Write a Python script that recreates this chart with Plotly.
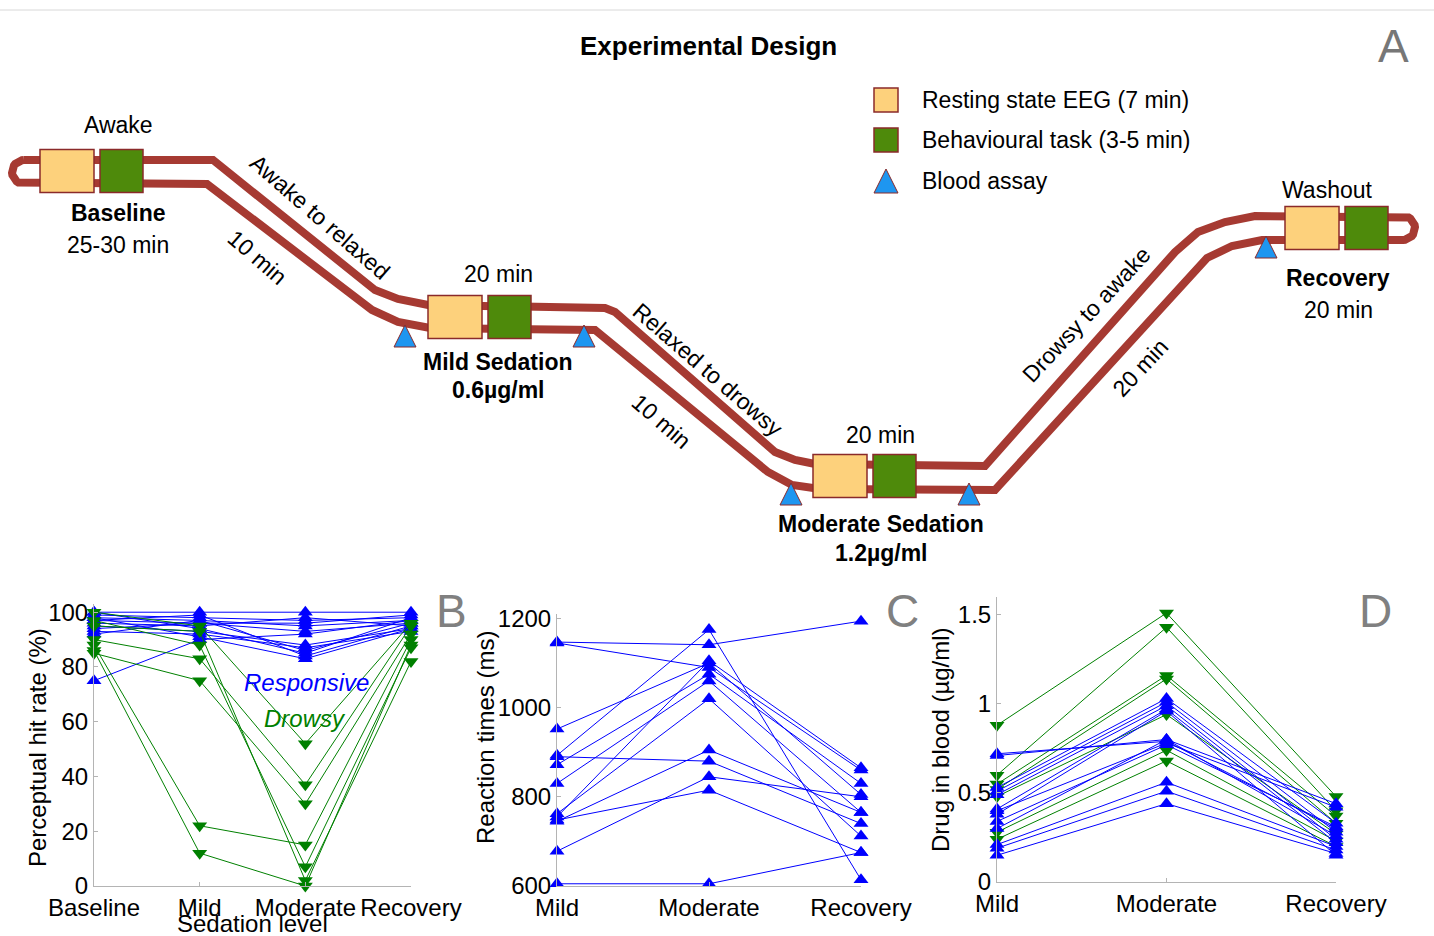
import numpy as np
import plotly.graph_objects as go

W, H = 1434, 936

# ---------------- Panel B : perceptual hit rate (%) ----------------
levels_B = ["Baseline", "Mild", "Moderate", "Recovery"]
hit_responsive = [
    [100, 100, 100, 100],
    [99, 98, 97, 98],
    [98, 97, 95, 97],
    [97, 96, 93, 96],
    [96, 95, 98, 95],
    [95, 93, 88, 94],
    [93, 92, 87, 93],
    [92, 97, 86, 96],
    [100, 94, 85, 98],
    [97, 99, 84, 95],
    [98, 91, 83, 94],
    [75, 90, 92, 97],
    [94, 96, 96, 99],
]
hit_drowsy = [
    [100, 95, 52, 96],
    [90, 83, 37, 95],
    [85, 75, 30, 92],
    [88, 22, 15, 90],
    [86, 12, 0, 88],
    [97, 88, 7, 87],
    [95, 93, 2, 82],
]

# ---------------- Panel C : reaction times (ms) ----------------
levels_CD = ["Mild", "Moderate", "Recovery"]
rt_responsive = [
    [1147, 1141, 1194],
    [1145, 1090, 860],
    [952, 1100, 805],
    [893, 1175, 614],
    [890, 880, 740],
    [872, 1075, 830],
    [830, 1060, 765],
    [762, 1020, 712],
    [755, 1105, 865],
    [748, 815, 675],
    [745, 905, 765],
    [678, 845, 800],
    [605, 605, 675],
]

# ---------------- Panel D : drug in blood (ug/ml) ----------------
drug_responsive = [
    [0.72, 0.79, 0.30],
    [0.71, 0.80, 0.44],
    [0.53, 1.03, 0.33],
    [0.51, 1.01, 0.28],
    [0.49, 0.99, 0.24],
    [0.41, 0.97, 0.22],
    [0.40, 0.78, 0.42],
    [0.34, 0.77, 0.31],
    [0.30, 0.80, 0.26],
    [0.21, 0.56, 0.20],
    [0.19, 0.51, 0.18],
    [0.15, 0.44, 0.16],
    [0.38, 0.96, 0.15],
]
drug_drowsy = [
    [0.88, 1.51, 0.48],
    [0.60, 1.43, 0.40],
    [0.55, 1.16, 0.37],
    [0.52, 1.14, 0.33],
    [0.48, 0.94, 0.27],
    [0.28, 0.74, 0.23],
    [0.24, 0.68, 0.20],
]

# ---------------- Panel A : experimental design schematic (pixel space) ----------------
track_upper_x = [24, 213, 375, 398, 428, 605, 615, 775, 795, 815, 985, 1175, 1198, 1225, 1255, 1403]
track_upper_y = [160, 160, 290, 299, 305, 308, 312, 452, 460, 464, 466, 252, 232, 222, 216, 216]
track_lower_x = [1403, 1262, 1232, 1207, 995, 820, 792, 768, 595, 430, 398, 372, 207, 24]
track_lower_y = [240, 240, 246, 258, 490, 489, 485, 472, 330, 328, 322, 310, 184, 184]
stage_left = [40, 428, 813, 1285]
stage_cy = [171, 317, 476, 228]
assay_x = [405, 584, 791, 969, 1266]
assay_y = [336, 336, 494, 494, 247]
legend_labels = ["Resting state EEG (7 min)", "Behavioural task (3-5 min)", "Blood assay"]
legend_y = [100, 140, 181]

BLUE = "#0000FF"
GREEN = "#008000"
TRACK = "#A63A32"
YELLOW = "#FDD17C"
DGREEN = "#4E8A0B"
ASSAY = "#1E96F0"
EDGE = "#8A2A2A"
FONT = "Liberation Sans, Arial, sans-serif"

fig = go.Figure()


def group_trace(rows, xaxis, yaxis, color, symbol, size=13):
    xs, ys = [], []
    for r in rows:
        xs += list(range(len(r))) + [None]
        ys += list(r) + [None]
    return go.Scatter(x=xs, y=ys, xaxis=xaxis, yaxis=yaxis, mode="lines+markers",
                      line=dict(color=color, width=1),
                      marker=dict(symbol=symbol, size=size, color=color, line=dict(width=0)),
                      cliponaxis=False, showlegend=False, hoverinfo="skip")


# Panel B
fig.add_trace(group_trace(hit_responsive, "x", "y", BLUE, "triangle-up"))
fig.add_trace(group_trace(hit_drowsy, "x", "y", GREEN, "triangle-down"))
# Panel C
fig.add_trace(group_trace(rt_responsive, "x2", "y2", BLUE, "triangle-up"))
# Panel D
fig.add_trace(group_trace(drug_drowsy, "x3", "y3", GREEN, "triangle-down"))
fig.add_trace(group_trace(drug_responsive, "x3", "y3", BLUE, "triangle-up"))

# Schematic track: upper route, right loop, lower route, left loop
def arc(cx, cy, r, a0, a1, n=20):
    t = np.linspace(a0, a1, n)
    return list(cx + r * np.cos(t)), list(cy + r * np.sin(t))

rx, ry = arc(track_upper_x[-1], (track_upper_y[-1] + track_lower_y[0]) / 2,
             (track_lower_y[0] - track_upper_y[-1]) / 2, -np.pi / 2, np.pi / 2)
lx, ly = arc(track_lower_x[-1], (track_upper_y[0] + track_lower_y[-1]) / 2,
             (track_lower_y[-1] - track_upper_y[0]) / 2, np.pi / 2, 3 * np.pi / 2)
path_x = track_upper_x + rx + track_lower_x + lx
path_y = track_upper_y + ry + track_lower_y + ly
fig.add_trace(go.Scatter(x=path_x, y=path_y, xaxis="x4", yaxis="y4", mode="lines",
                         line=dict(color=TRACK, width=8), showlegend=False, hoverinfo="skip"))

shapes = []
SQ_H, Y_W, G_W, GAP = 43, 54, 43, 6
for sx, sy in zip(stage_left, stage_cy):
    shapes.append(dict(type="rect", xref="x4", yref="y4", x0=sx, x1=sx + Y_W,
                       y0=sy - SQ_H / 2, y1=sy + SQ_H / 2, fillcolor=YELLOW,
                       line=dict(color=EDGE, width=1.5), layer="above"))
    shapes.append(dict(type="rect", xref="x4", yref="y4", x0=sx + Y_W + GAP, x1=sx + Y_W + GAP + G_W,
                       y0=sy - SQ_H / 2, y1=sy + SQ_H / 2, fillcolor=DGREEN,
                       line=dict(color=EDGE, width=1.5), layer="above"))


def tri_path(x, y, hw=11, h=22):
    return f"M {x - hw},{y + h / 2} L {x + hw},{y + h / 2} L {x},{y - h / 2} Z"


for ax_, ay_ in zip(assay_x, assay_y):
    shapes.append(dict(type="path", xref="x4", yref="y4", path=tri_path(ax_, ay_),
                       fillcolor=ASSAY, line=dict(color=EDGE, width=1), layer="above"))

# Legend of schematic
LX = 886
shapes.append(dict(type="rect", xref="x4", yref="y4", x0=LX - 12, x1=LX + 12,
                   y0=legend_y[0] - 12, y1=legend_y[0] + 12, fillcolor=YELLOW,
                   line=dict(color=EDGE, width=1.5)))
shapes.append(dict(type="rect", xref="x4", yref="y4", x0=LX - 12, x1=LX + 12,
                   y0=legend_y[1] - 12, y1=legend_y[1] + 12, fillcolor=DGREEN,
                   line=dict(color=EDGE, width=1.5)))
shapes.append(dict(type="path", xref="x4", yref="y4", path=tri_path(LX, legend_y[2], 12, 24),
                   fillcolor=ASSAY, line=dict(color=EDGE, width=1)))
# top border line
shapes.append(dict(type="line", xref="paper", yref="paper", x0=0, x1=1, y0=1 - 10 / H, y1=1 - 10 / H,
                   line=dict(color="#D8D8D8", width=1)))

annotations = []


def ann(text, x, y, size=23, color="black", angle=0, xanchor="center"):
    annotations.append(dict(text=text, x=x / W, y=1 - y / H, xref="paper", yref="paper",
                            showarrow=False, textangle=angle, xanchor=xanchor, yanchor="middle",
                            font=dict(family=FONT, size=size, color=color)))


ann("<b>Experimental Design</b>", 708, 46, size=26)
ann("A", 1393, 46, size=46, color="#777777")
for lab, ly_ in zip(legend_labels, legend_y):
    ann(lab, 920, ly_, size=23, xanchor="left")

ann("Awake", 118, 125)
ann("<b>Baseline</b>", 118, 213)
ann("25-30 min", 118, 245)
ann("Awake to relaxed", 320, 217, angle=41)
ann("10 min", 257, 257, angle=41)
ann("20 min", 498, 274)
ann("<b>Mild Sedation</b>", 498, 362)
ann("<b>0.6µg/ml</b>", 498, 390)
ann("Relaxed to drowsy", 708, 370, angle=41)
ann("10 min", 661, 421, angle=41)
ann("20 min", 880, 435)
ann("<b>Moderate Sedation</b>", 881, 524)
ann("<b>1.2µg/ml</b>", 881, 553)
ann("Drowsy to awake", 1086, 315, angle=-47)
ann("20 min", 1140, 368, angle=-47)
ann("Washout", 1327, 190)
ann("<b>Recovery</b>", 1338, 278)
ann("20 min", 1338, 310)

# bottom panel labels
ann("B", 451, 611, size=46, color="#808080")
ann("C", 903, 611, size=46, color="#808080")
ann("D", 1375, 611, size=46, color="#808080")
ann("Perceptual hit rate (%)", 37, 748, size=24, angle=-90)
ann("Sedation level", 253, 923, size=24)
ann("Reaction times (ms)", 485, 738, size=24, angle=-90)
ann("Drug in blood (µg/ml)", 940, 740, size=24, angle=-90)
ann("<i>Responsive</i>", 306, 682, size=24, color=BLUE)
ann("<i>Drowsy</i>", 305, 718, size=24, color=GREEN)

AX_COL = "#B4B4B4"


def xa(dom, labels, anchor):
    return dict(domain=[dom[0] / W, dom[1] / W], range=[0, len(labels) - 1], anchor=anchor,
                tickmode="array", tickvals=list(range(len(labels))), ticktext=labels,
                tickangle=0, automargin=False,
                showline=True, linecolor=AX_COL, linewidth=1, ticks="inside", ticklen=4,
                tickcolor=AX_COL, showgrid=False, zeroline=False,
                tickfont=dict(family=FONT, size=24, color="black"), fixedrange=True)


def ya(bottom_px, top_px, rng, tickvals, anchor):
    return dict(domain=[1 - bottom_px / H, 1 - top_px / H], range=rng, anchor=anchor,
                tickmode="array", tickvals=tickvals, ticktext=[f"{v:g}" for v in tickvals],
                automargin=False,
                showline=True, linecolor=AX_COL, linewidth=1, ticks="inside", ticklen=4,
                tickcolor=AX_COL, showgrid=False, zeroline=False,
                tickfont=dict(family=FONT, size=24, color="black"), fixedrange=True)


fig.update_layout(
    width=W, height=H, margin=dict(l=0, r=0, t=0, b=0, pad=0, autoexpand=False),
    autosize=False,
    paper_bgcolor="white", plot_bgcolor="rgba(0,0,0,0)",
    xaxis=xa((94, 411), levels_B, "y"),
    yaxis=ya(886, 604, [0, 103], [0, 20, 40, 60, 80, 100], "x"),
    xaxis2=xa((557, 861), levels_CD, "y2"),
    yaxis2=ya(886, 614, [600, 1210], [600, 800, 1000, 1200], "x2"),
    xaxis3=xa((997, 1336), levels_CD, "y3"),
    yaxis3=ya(882, 597, [0, 1.6], [0, 0.5, 1, 1.5], "x3"),
    xaxis4=dict(domain=[0, 1], range=[0, W], visible=False, fixedrange=True, anchor="y4",
                automargin=False),
    yaxis4=dict(domain=[0, 1], range=[H, 0], visible=False, fixedrange=True, anchor="x4",
                automargin=False),
    shapes=shapes, annotations=annotations, showlegend=False,
)

fig.write_html("out.html")
